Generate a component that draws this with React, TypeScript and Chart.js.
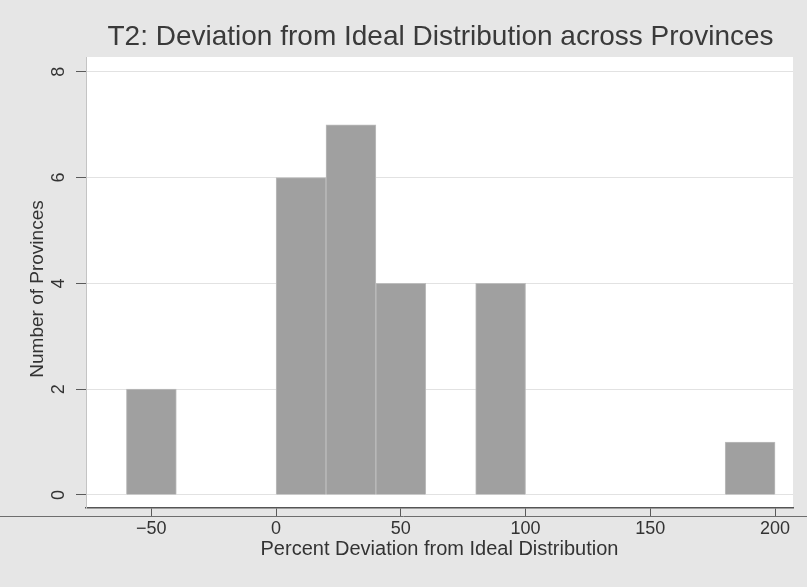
import React, { useEffect, useRef } from 'react';
import { Chart, registerables } from 'chart.js';

Chart.register(...registerables);

// Histogram bins (start of each 20-point bin) and counts
const binStarts = [-60, -40, -20, 0, 20, 40, 60, 80, 100, 120, 140, 160, 180];
const binWidth = 20;
const counts = [2, 0, 0, 6, 7, 4, 0, 4, 0, 0, 0, 0, 1];

const xTicks = [-50, 0, 50, 100, 150, 200];
const yTicks = [0, 2, 4, 6, 8];

const titleText = 'T2: Deviation from Ideal Distribution across Provinces';
const xTitle = 'Percent Deviation from Ideal Distribution';
const yTitle = 'Number of Provinces';

const FONT = '"Liberation Sans", Arial, Helvetica, sans-serif';

export default function App() {
  const ref = useRef<HTMLCanvasElement>(null);

  useEffect(() => {
    document.body.style.margin = '0';
    const canvas = ref.current;
    if (!canvas) return;

    const points = binStarts
      .map((s, i) => ({ x: s + binWidth / 2, y: counts[i] }))
      .filter((p) => p.y > 0);

    const decor = {
      id: 'decor',
      beforeDraw(chart: any) {
        const { ctx, chartArea, width, height } = chart;
        ctx.save();
        ctx.fillStyle = '#e6e6e6';
        ctx.fillRect(0, 0, width, height);
        ctx.fillStyle = '#ffffff';
        ctx.fillRect(chartArea.left, chartArea.top, chartArea.right - chartArea.left, chartArea.bottom - chartArea.top);
        ctx.restore();
      },
      afterDraw(chart: any) {
        const { ctx, width, chartArea } = chart;
        const ys = chart.scales.y;
        ctx.save();
        // main title, centred over the plot region
        ctx.font = `28px ${FONT}`;
        ctx.fillStyle = '#3a3a3a';
        ctx.textAlign = 'center';
        ctx.textBaseline = 'middle';
        ctx.fillText(titleText, (chartArea.left + chartArea.right) / 2 + 1, 37.5);

        // y axis title
        ctx.font = `19px ${FONT}`;
        ctx.fillStyle = '#333333';
        ctx.save();
        ctx.translate(37.5, 289);
        ctx.rotate(-Math.PI / 2);
        ctx.fillText(yTitle, 0, 0);
        ctx.restore();

        // y tick labels, rotated
        ctx.font = `18px ${FONT}`;
        yTicks.forEach((v) => {
          const py = ys.getPixelForValue(v);
          ctx.save();
          ctx.translate(59, py);
          ctx.rotate(-Math.PI / 2);
          ctx.fillText(String(v), 0, 0);
          ctx.restore();
        });
        // scan line across the picture
        ctx.strokeStyle = '#6e6e6e';
        ctx.lineWidth = 1;
        ctx.beginPath();
        ctx.moveTo(0, 516.5);
        ctx.lineTo(width, 516.5);
        ctx.stroke();
        ctx.restore();
      },
    };

    const chart = new Chart(canvas, {
      type: 'bar',
      data: {
        datasets: [
          {
            data: points as any,
            backgroundColor: '#a0a0a0',
            borderColor: '#bdbdbd',
            borderWidth: 1,
            barPercentage: 1,
            categoryPercentage: 1,
          },
        ],
      },
      options: {
        responsive: false,
        devicePixelRatio: 1,
        animation: false,
        layout: { padding: { left: 0, right: 14, top: 57, bottom: 0 } },
        plugins: {
          legend: { display: false },
          tooltip: { enabled: false },
          title: { display: false },
        },
        scales: {
          x: {
            type: 'linear',
            min: -76.2,
            max: 207.2,
            offset: false,
            afterBuildTicks: (axis: any) => {
              axis.ticks = xTicks.map((v) => ({ value: v }));
            },
            afterFit: (scale: any) => {
              scale.height = 79;
            },
            grid: {
              display: true,
              offset: false,
              drawOnChartArea: false,
              drawTicks: true,
              tickLength: 9,
              color: '#5a5a5a',
              tickColor: '#5a5a5a',
            },
            border: { display: true, color: '#555555', width: 1.5 },
            ticks: {
              padding: 1,
              color: '#333333',
              font: { family: FONT, size: 18 },
              maxRotation: 0,
              minRotation: 0,
              autoSkip: false,
              callback: (v: any) => (Number(v) < 0 ? '\u2212' + Math.abs(Number(v)) : String(v)),
            },
            title: {
              display: true,
              text: xTitle,
              color: '#333333',
              font: { family: FONT, size: 20, lineHeight: 1.2 },
              padding: { top: 0, bottom: 26 },
            },
          },
          y: {
            type: 'linear',
            min: -0.246,
            max: 8.28,
            afterBuildTicks: (axis: any) => {
              axis.ticks = yTicks.map((v) => ({ value: v }));
            },
            afterFit: (scale: any) => {
              scale.width = 86;
            },
            grid: {
              display: true,
              drawOnChartArea: true,
              drawTicks: true,
              tickLength: 10,
              color: '#e2e2e2',
              tickColor: '#5a5a5a',
            },
            border: { display: true, color: '#c4c4c4', width: 1 },
            ticks: { display: false },
            title: { display: false },
          },
        },
      } as any,
      plugins: [decor],
    });

    return () => chart.destroy();
  }, []);

  return (
    <div style={{ width: 807, height: 587 }}>
      <canvas ref={ref} width={807} height={587} style={{ display: 'block' }} />
    </div>
  );
}
